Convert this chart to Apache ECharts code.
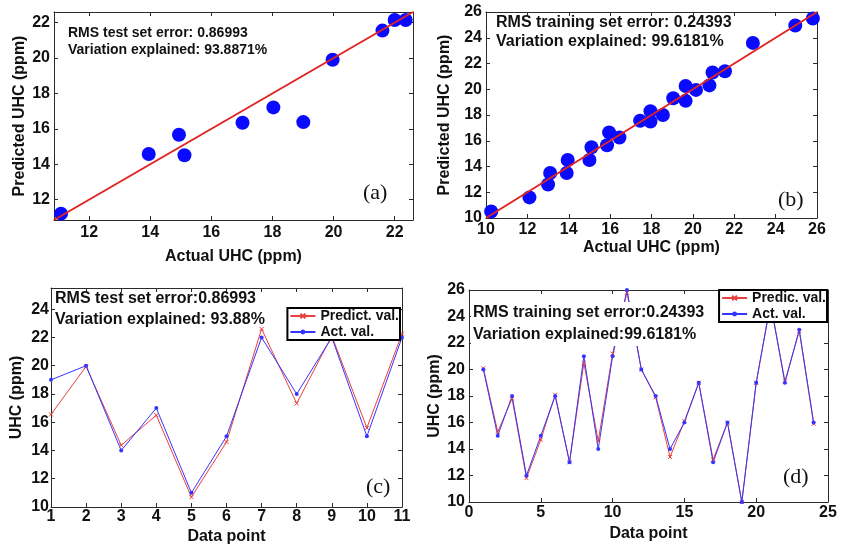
<!DOCTYPE html>
<html>
<head>
<meta charset="utf-8">
<title>UHC prediction</title>
<script src="https://cdn.jsdelivr.net/npm/echarts@6/dist/echarts.min.js"></script>
<style>
  html, body { margin: 0; padding: 0; background: #fff; }
  #chart { width: 841px; height: 552px; }
</style>
</head>
<body>
<div id="chart"></div>
<script>
// ---- Data -------------------------------------------------------------
// (a) test set: actual vs predicted
const testScatterActual    = [11.08, 13.95, 14.94, 15.12, 17.02, 18.03, 19.01, 19.97, 21.6, 22.0, 22.36];
const testScatterPredicted = [11.21, 14.58, 15.67, 14.51, 16.34, 17.21, 16.38, 19.9, 21.55, 22.15, 22.15];
const testRange = [10.85, 22.6];

// (b) training set: actual vs predicted
const trainScatterActual    = [10.25, 12.1, 13.0, 13.1, 13.9, 13.95, 15.0, 15.1, 15.85, 15.95, 16.45, 17.45, 17.95,
                               17.95, 18.55, 19.05, 19.65, 19.65, 20.15, 20.8, 20.95, 21.55, 22.9, 24.95, 25.8];
const trainScatterPredicted = [10.5, 11.6, 12.6, 13.5, 13.5, 14.5, 14.5, 15.5, 15.65, 16.65, 16.25, 17.55, 18.3,
                               17.5, 18.0, 19.3, 20.25, 19.1, 19.95, 20.3, 21.3, 21.4, 23.6, 24.95, 25.5];
const trainRange = [10, 26];

// (c) test set by data point
const testPoints    = [1, 2, 3, 4, 5, 6, 7, 8, 9, 10, 11];
const testPredicted = [16.55, 19.95, 14.37, 16.5, 10.7, 14.6, 22.6, 17.33, 22.1, 15.6, 22.27];
const testActual    = [19, 20, 14, 17, 11, 15, 22, 18, 22, 15, 22];

// (d) training set by data point
const trainPoints    = [1, 2, 3, 4, 5, 6, 7, 8, 9, 10, 11, 12, 13, 14, 15, 16, 17, 18, 19, 20, 21, 22, 23, 24];
const trainPredicted = [20.1, 15.3, 17.8, 11.8, 14.7, 18.1, 13.0, 20.5, 14.6, 21.2, 25.8, 20.0,
                        17.9, 13.4, 16.1, 19.0, 13.2, 16.0, 10.0, 19.0, 25.0, 19.1, 22.9, 15.9];
const trainActual    = [20, 15, 18, 12, 15, 18, 13, 21, 14, 21, 26, 20,
                        18, 14, 16, 19, 13, 16, 10, 19, 25, 19, 23, 16];

// ---- Styling helpers --------------------------------------------------
const SANS = '"Liberation Sans", Arial, Helvetica, sans-serif';
const SERIF = '"Liberation Serif", "Times New Roman", serif';
const FRAME = '#2b2b2b';
const RED = '#e8403c';
const BLUE = '#3535ff';

const zip = (xs, ys) => xs.map((x, i) => [x, ys[i]]);
const evenOnly = v => {
  const r = Math.round(v);
  return Math.abs(v - r) < 1e-6 && r % 2 === 0 ? String(r) : '';
};

function axis(o) {
  const base = {
    type: 'value',
    gridIndex: o.grid,
    position: o.position,
    min: o.min,
    max: o.max,
    name: o.name || '',
    nameLocation: 'middle',
    nameGap: o.nameGap || 0,
    nameTextStyle: { fontFamily: SANS, fontWeight: 'bold', fontSize: 16, color: '#111' },
    axisLine: { show: true, onZero: false, lineStyle: { color: FRAME, width: 1 } },
    axisTick: { show: true, inside: true, length: 4, lineStyle: { color: FRAME, width: 1 } },
    axisLabel: {
      show: !!o.labels,
      margin: o.margin != null ? o.margin : 4,
      fontFamily: SANS, fontWeight: 'bold', fontSize: 16, color: '#111',
      formatter: o.formatter
    },
    splitLine: { show: false }
  };
  if (o.interval != null) base.interval = o.interval;
  if (o.fixedStep != null) { base.minInterval = o.fixedStep; base.maxInterval = o.fixedStep; }
  return base;
}

// Each panel: bottom/left axes with labels, mirrored top/right axes for the box
const xAxes = [
  axis({ grid: 0, position: 'bottom', min: testRange[0], max: testRange[1], fixedStep: 2, labels: true,
         formatter: evenOnly, name: 'Actual UHC (ppm)', nameGap: 29, margin: 5 }),
  axis({ grid: 1, position: 'bottom', min: trainRange[0], max: trainRange[1], interval: 2, labels: true,
         formatter: evenOnly, name: 'Actual UHC (ppm)', nameGap: 22, margin: 4 }),
  axis({ grid: 2, position: 'bottom', min: 1, max: 11, interval: 1, labels: true,
         name: 'Data point', nameGap: 22, margin: 2 }),
  axis({ grid: 3, position: 'bottom', min: 0, max: 25, interval: 5, labels: true,
         name: 'Data point', nameGap: 24, margin: 3 }),
  axis({ grid: 0, position: 'top', min: testRange[0], max: testRange[1], fixedStep: 2 }),
  axis({ grid: 1, position: 'top', min: trainRange[0], max: trainRange[1], interval: 2 }),
  axis({ grid: 2, position: 'top', min: 1, max: 11, interval: 1 }),
  axis({ grid: 3, position: 'top', min: 0, max: 25, interval: 5 })
];
const yAxes = [
  axis({ grid: 0, position: 'left', min: testRange[0], max: testRange[1], fixedStep: 2, labels: true,
         formatter: evenOnly, name: 'Predicted UHC (ppm)', nameGap: 26 }),
  axis({ grid: 1, position: 'left', min: trainRange[0], max: trainRange[1], interval: 2, labels: true,
         formatter: evenOnly, name: 'Predicted UHC (ppm)', nameGap: 33 }),
  axis({ grid: 2, position: 'left', min: 10, max: 25.5, interval: 2, labels: true,
         formatter: evenOnly, name: 'UHC (ppm)', nameGap: 26, margin: 2 }),
  axis({ grid: 3, position: 'left', min: 10, max: 26, interval: 2, labels: true,
         formatter: evenOnly, name: 'UHC (ppm)', nameGap: 26 }),
  axis({ grid: 0, position: 'right', min: testRange[0], max: testRange[1], fixedStep: 2 }),
  axis({ grid: 1, position: 'right', min: trainRange[0], max: trainRange[1], interval: 2 }),
  axis({ grid: 2, position: 'right', min: 10, max: 25.5, interval: 2 }),
  axis({ grid: 3, position: 'right', min: 10, max: 26, interval: 2 })
];

const crossMark = 'path://M0,0L10,10M10,0L0,10';

function identityLine(idx, range) {
  return {
    type: 'line', xAxisIndex: idx, yAxisIndex: idx,
    data: [[range[0], range[0]], [range[1], range[1]]],
    showSymbol: false, silent: true,
    lineStyle: { color: '#e02424', width: 2 }, z: 3
  };
}
function dots(idx, xs, ys) {
  return {
    type: 'scatter', xAxisIndex: idx, yAxisIndex: idx,
    data: zip(xs, ys), symbolSize: 14,
    itemStyle: { color: '#0a0aff', opacity: 1 }, z: 2
  };
}
function predLine(idx, name, xs, ys) {
  return {
    type: 'line', name, xAxisIndex: idx, yAxisIndex: idx,
    data: zip(xs, ys), symbol: crossMark, symbolSize: 4,
    itemStyle: { color: RED, borderColor: RED, borderWidth: 1 },
    lineStyle: { color: RED, width: 1 }, z: 2
  };
}
function actLine(idx, name, xs, ys) {
  return {
    type: 'line', name, xAxisIndex: idx, yAxisIndex: idx,
    data: zip(xs, ys), symbol: 'circle', symbolSize: 4,
    itemStyle: { color: BLUE, borderWidth: 0 },
    lineStyle: { color: BLUE, width: 1 }, z: 2
  };
}

function legendBox(right, top, names) {
  return {
    data: names, orient: 'vertical', right, top,
    backgroundColor: '#fff', borderColor: '#000', borderWidth: 2, borderRadius: 0,
    padding: [1, 1, 1, 2], itemGap: 2, itemWidth: 25, itemHeight: 6,
    selectedMode: false,
    textStyle: { fontFamily: SANS, fontSize: 14, fontWeight: 'bold', color: '#111' }
  };
}

function note(x, y, lines, size, lineHeight, bg) {
  return {
    type: 'text', x, y, z: 100,
    style: {
      text: lines.join('\n'), fontFamily: SANS, fontWeight: 'bold', fontSize: size,
      lineHeight, fill: '#111', align: 'left', verticalAlign: 'top',
      backgroundColor: bg ? '#fff' : 'transparent', padding: bg ? [0, 2, 0, 2] : 0
    }
  };
}
function tag(x, y, text) {
  return {
    type: 'text', x, y, z: 100,
    style: { text, fontFamily: SERIF, fontSize: 22, fill: '#111', align: 'left', verticalAlign: 'middle' }
  };
}

const option = {
  animation: false,
  backgroundColor: '#fff',
  grid: [
    { left: 54, top: 12, width: 359, height: 208 },
    { left: 486, top: 12, width: 331, height: 206 },
    { left: 51, top: 288, width: 351, height: 219 },
    { left: 469, top: 290, width: 359, height: 212 }
  ],
  xAxis: xAxes,
  yAxis: yAxes,
  legend: [
    legendBox(441, 308, ['Predict. val.', 'Act. val.']),
    legendBox(14, 290, ['Predic. val.', 'Act. val.'])
  ],
  series: [
    dots(0, testScatterActual, testScatterPredicted),
    identityLine(0, testRange),
    dots(1, trainScatterActual, trainScatterPredicted),
    identityLine(1, trainRange),
    predLine(2, 'Predict. val.', testPoints, testPredicted),
    actLine(2, 'Act. val.', testPoints, testActual),
    predLine(3, 'Predic. val.', trainPoints, trainPredicted),
    actLine(3, 'Act. val.', trainPoints, trainActual)
  ],
  graphic: [
    note(68, 25, ['RMS test set error: 0.86993', 'Variation explained: 93.8871%'], 14, 17, false),
    note(496, 13, ['RMS training set error: 0.24393', 'Variation explained: 99.6181%'], 16, 19, false),
    note(55, 288, ['RMS test set error:0.86993', 'Variation explained: 93.88%'], 16, 21, false),
    note(471, 302, ['RMS training set error:0.24393', 'Variation explained:99.6181%'], 16, 22, true),
    tag(363, 193, '(a)'),
    tag(778, 200, '(b)'),
    tag(366, 487, '(c)'),
    tag(783, 477, '(d)')
  ]
};

const chart = echarts.init(document.getElementById('chart'), null, { renderer: 'canvas' });
chart.setOption(option);
</script>
</body>
</html>
